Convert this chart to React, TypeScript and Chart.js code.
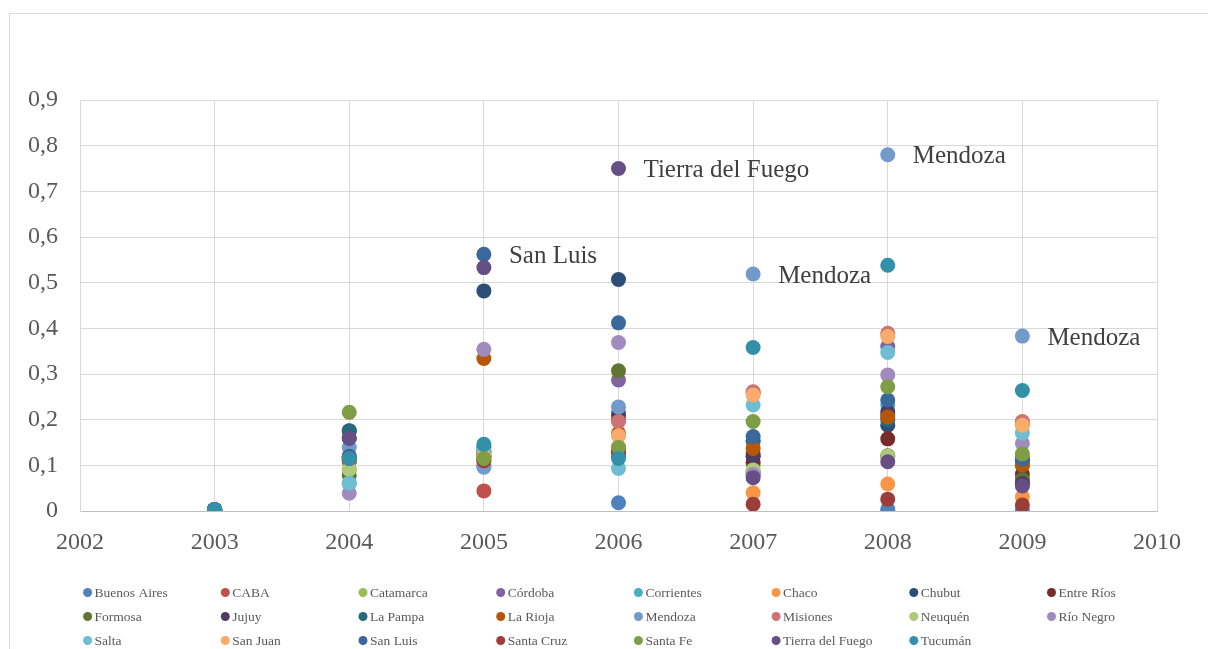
import React, { useEffect, useRef } from "react";
import { Chart, registerables } from "chart.js";

Chart.register(...registerables);

const years = [2003, 2004, 2005, 2006, 2007, 2008, 2009];
const provinces = [
  "Buenos Aires", "CABA", "Catamarca", "Córdoba", "Corrientes", "Chaco", "Chubut", "Entre Ríos",
  "Formosa", "Jujuy", "La Pampa", "La Rioja", "Mendoza", "Misiones", "Neuquén", "Río Negro",
  "Salta", "San Juan", "San Luis", "Santa Cruz", "Santa Fe", "Tierra del Fuego", "Tucumán",
];
const colors = [
  "#4F81BD", "#C0504D", "#9BBB59", "#8064A2", "#4BACC6", "#F79646", "#2C4D75", "#772C2A",
  "#5F7530", "#4D3B62", "#276A7C", "#B65708", "#729ACA", "#CD7371", "#AFC97A", "#A08BBF",
  "#6FBDD1", "#F9AB6B", "#3A679C", "#9C3D3A", "#7F9D44", "#664F85", "#3291A9",
];

// values per province, for years 2003..2009
const buenosAires = [0.003, 0.11, 0.10, 0.018, 0.12, 0.004, 0.002];
const caba = [0.003, 0.12, 0.044, 0.20, 0.26, 0.21, 0.19];
const catamarca = [0.003, 0.09, 0.11, 0.14, 0.10, 0.12, 0.12];
const cordoba = [0.003, 0.12, 0.12, 0.287, 0.08, 0.36, 0.06];
const corrientes = [0.003, 0.06, 0.13, 0.215, 0.15, 0.232, 0.11];
const chaco = [0.003, 0.12, 0.12, 0.166, 0.04, 0.059, 0.031];
const chubut = [0.003, 0.175, 0.482, 0.507, 0.125, 0.188, 0.11];
const entreRios = [0.003, 0.11, 0.12, 0.13, 0.107, 0.158, 0.081];
const formosa = [0.003, 0.078, 0.13, 0.307, 0.086, 0.121, 0.069];
const jujuy = [0.003, 0.16, 0.125, 0.21, 0.12, 0.217, 0.06];
const laPampa = [0.003, 0.176, 0.14, 0.12, 0.155, 0.20, 0.10];
const laRioja = [0.003, 0.11, 0.334, 0.17, 0.137, 0.206, 0.101];
const mendoza = [0.003, 0.139, 0.096, 0.228, 0.519, 0.78, 0.383];
const misiones = [0.003, 0.115, 0.11, 0.196, 0.261, 0.389, 0.196];
const neuquen = [0.003, 0.091, 0.12, 0.14, 0.09, 0.12, 0.12];
const rioNegro = [0.003, 0.039, 0.354, 0.369, 0.08, 0.298, 0.148];
const salta = [0.003, 0.061, 0.13, 0.093, 0.232, 0.347, 0.171];
const sanJuan = [0.003, 0.115, 0.12, 0.165, 0.254, 0.382, 0.188];
const sanLuis = [0.003, 0.12, 0.562, 0.412, 0.163, 0.243, 0.114];
const santaCruz = [0.003, 0.115, 0.11, 0.13, 0.015, 0.026, 0.013];
const santaFe = [0.003, 0.216, 0.115, 0.139, 0.196, 0.272, 0.125];
const tierraDelFuego = [0.003, 0.159, 0.533, 0.75, 0.073, 0.108, 0.055];
const tucuman = [0.003, 0.115, 0.146, 0.115, 0.358, 0.538, 0.264];

const seriesValues = [
  buenosAires, caba, catamarca, cordoba, corrientes, chaco, chubut, entreRios, formosa, jujuy,
  laPampa, laRioja, mendoza, misiones, neuquen, rioNegro, salta, sanJuan, sanLuis, santaCruz,
  santaFe, tierraDelFuego, tucuman,
];

const labelSeries = ["San Luis", "Tierra del Fuego", "Mendoza", "Mendoza", "Mendoza"];
const labelYears = [2005, 2006, 2007, 2008, 2009];

const yTicks = [0, 0.1, 0.2, 0.3, 0.4, 0.5, 0.6, 0.7, 0.8, 0.9];

const SERIF = "'Liberation Serif', 'Times New Roman', serif";

const framePlugin = {
  id: "frame",
  beforeDraw(chart: any) {
    const ctx = chart.ctx;
    ctx.save();
    ctx.strokeStyle = "#D9D9D9";
    ctx.lineWidth = 1;
    ctx.strokeRect(9.5, 13.5, 1300, 700);
    ctx.restore();
  },
};

const pointLabelPlugin = {
  id: "pointLabels",
  afterDatasetsDraw(chart: any) {
    const ctx = chart.ctx;
    ctx.save();
    ctx.font = `25px ${SERIF}`;
    ctx.fillStyle = "#404040";
    ctx.textBaseline = "middle";
    ctx.textAlign = "left";
    labelSeries.forEach((name, k) => {
      const di = provinces.indexOf(name);
      const pi = years.indexOf(labelYears[k]);
      const meta = chart.getDatasetMeta(di);
      const el = meta.data[pi];
      if (!el) return;
      ctx.fillText(name, el.x + 25, el.y + 2);
    });
    ctx.restore();
  },
};

const gridLegendPlugin = {
  id: "gridLegend",
  afterDraw(chart: any) {
    const ctx = chart.ctx;
    ctx.save();
    ctx.font = `13.5px ${SERIF}`;
    ctx.textBaseline = "middle";
    ctx.textAlign = "left";
    const cols = 8;
    const x0 = 87.6;
    const dx = 137.7;
    const y0 = 592.5;
    const dy = 24;
    chart.data.datasets.forEach((ds: any, i: number) => {
      const c = i % cols;
      const r = Math.floor(i / cols);
      const x = x0 + c * dx;
      const y = y0 + r * dy;
      ctx.fillStyle = ds.backgroundColor;
      ctx.beginPath();
      ctx.arc(x, y, 4.5, 0, Math.PI * 2);
      ctx.fill();
      ctx.fillStyle = "#595959";
      ctx.fillText(ds.label, x + 7, y + 1);
    });
    ctx.restore();
  },
};

export default function App() {
  const ref = useRef<HTMLCanvasElement>(null);
  useEffect(() => {
    if (!ref.current) return;
    const datasets = provinces.map((p, i) => ({
      label: p,
      data: years.map((yr, j) => ({ x: yr, y: seriesValues[i][j] })),
      backgroundColor: colors[i],
      borderColor: colors[i],
      pointRadius: 7.5,
      pointBorderWidth: 0,
      pointHoverRadius: 7.5,
      order: -i,
    }));
    const chart = new Chart(ref.current, {
      type: "scatter",
      data: { datasets },
      options: {
        responsive: false,
        animation: false,
        layout: { padding: { top: 100, right: 51, left: 0, bottom: 0 } },
        plugins: { legend: { display: false }, tooltip: { enabled: false } },
        scales: {
          x: {
            type: "linear",
            min: 2002,
            max: 2010,
            afterFit: (s: any) => { s.height = 138; },
            ticks: {
              stepSize: 1,
              padding: 17,
              color: "#595959",
              font: { family: SERIF, size: 24 },
              callback: (v: any) => String(v),
            },
            grid: { color: "#D9D9D9", drawTicks: false },
            border: { color: "#BFBFBF" },
          },
          y: {
            type: "linear",
            min: 0,
            max: 0.9,
            afterFit: (s: any) => { s.width = 80; },
            afterBuildTicks: (s: any) => { s.ticks = yTicks.map((v) => ({ value: v })); },
            ticks: {
              padding: 22,
              color: "#595959",
              font: { family: SERIF, size: 24 },
              callback: (v: any) => (v === 0 ? "0" : Number(v).toFixed(1).replace(".", ",")),
            },
            grid: { color: "#D9D9D9", drawTicks: false },
            border: { color: "#D9D9D9" },
          },
        },
      },
      plugins: [framePlugin, pointLabelPlugin, gridLegendPlugin],
    });
    return () => chart.destroy();
  }, []);
  return (
    <div style={{ position: "fixed", left: 0, top: 0, width: 1208, height: 649, background: "#fff" }}>
      <canvas ref={ref} width={1208} height={649} style={{ width: 1208, height: 649 }} />
    </div>
  );
}
